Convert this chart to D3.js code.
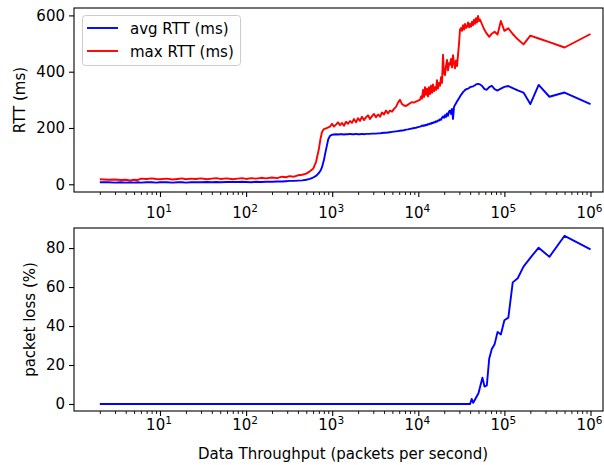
<!DOCTYPE html>
<html>
<head>
<meta charset="utf-8">
<script src="https://cdn.jsdelivr.net/npm/d3@7"></script>
<style>
  body { margin: 0; background: #fff; }
  svg { display: block; }
  text { font-family: "DejaVu Sans", sans-serif; fill: #000; }
</style>
</head>
<body>
<svg id="chart" width="604" height="465"></svg>
<script>
// Throughput sweep (packets per second) and round-trip times measured at each rate
const throughput = [
  2, 2.5, 3, 3.5, 4, 4.5, 5, 5.5, 6, 7,
  8, 9, 10, 12, 14, 16, 18, 20, 23, 26,
  30, 35, 40, 45, 50, 60, 70, 80, 90, 100,
  115, 130, 150, 170, 200, 230, 260, 290, 320, 360,
  400, 450, 500, 550, 600, 650, 700, 730, 760, 800,
  850, 900,
  943, 995, 1049, 1107, 1168, 1232, 1300, 1371, 1446, 1526,
  1610, 1698, 1791, 1890, 1994, 2103, 2219, 2341, 2470, 2605,
  2748, 2899, 3058, 3227, 3404, 3591, 3788, 3996, 4216, 4447,
  4692, 4950, 5222, 5508, 5811, 6131, 6467, 6823, 7198, 7594,
  8010, 8451, 8913, 9402, 9920, 10464,
  10748, 11040, 11337, 11644, 11960, 12285, 12618, 12960, 13312, 13673,
  14044, 14425, 14816, 15218, 15631, 16055, 16490, 16938, 17397, 17869,
  18354, 18852, 19363, 19889, 20428, 20982, 21552, 22136, 22737, 23354,
  23987, 24638, 25307, 25993, 26698, 27422, 28166, 28930, 29715, 30521,
  31349, 32199, 33072, 33969, 34891, 35837, 36809, 37808, 38833, 39887,
  40969, 42080, 43221, 44394, 45598, 46835, 48106, 49410, 50750, 52127,
  55556, 58824, 62500, 66667, 71429, 76923, 83333, 90909, 100000, 111111,
  125000, 142857, 166667, 200000, 250000, 333333, 500000, 1000000
];

const avgRtt = [
  7, 7, 6, 7, 6, 7, 6, 7, 6, 7,
  7, 6, 7, 7, 6, 7, 7, 6, 7, 7,
  7, 8, 7, 8, 7, 8, 8, 8, 9, 8,
  7, 9, 8, 9, 9, 10, 10, 11, 12, 12,
  13, 14, 16, 19, 24, 30, 40, 48, 60, 85,
  125, 160,
  172, 176, 177, 178, 177, 178, 178, 177, 178, 178,
  179, 178, 178, 179, 178, 178, 179, 178, 179, 179,
  179, 180, 180, 180, 181, 181, 182, 183, 183, 184,
  185, 186, 187, 188, 189, 190, 191, 192, 194, 195,
  197, 198, 200, 201, 203, 205,
  206, 209, 207, 210, 208, 212, 210, 214, 213, 216,
  215, 219, 217, 221, 220, 224, 222, 227, 226, 231,
  229, 237, 241, 236, 246, 239, 252, 243, 259, 262,
  250, 268, 232, 275, 282, 288, 295, 300, 306, 312,
  318, 322, 328, 331, 335, 337, 339, 340, 342, 345,
  346, 347, 348, 350, 352, 355, 356, 357, 356, 355,
  348, 338, 336, 345, 350, 338, 333, 340, 346, 349,
  342, 334, 326, 285, 353, 311, 326, 285
];

const maxRtt = [
  18, 16, 17, 15, 16, 14, 16, 15, 20, 19,
  21, 19, 18, 20, 17, 19, 21, 18, 20, 19,
  21, 18, 20, 22, 19, 21, 18, 20, 22, 19,
  22, 20, 23, 21, 24, 22, 27, 25, 29, 27,
  32, 34, 38, 46, 55, 80, 125, 160, 185, 196,
  199, 202,
  205, 215, 205, 212, 220, 210, 218, 208, 222, 215,
  225, 218, 232, 220, 235, 225, 240, 228, 238, 245,
  232, 242, 250, 238, 248, 240, 255, 248, 262, 252,
  262, 258, 268, 275, 290, 300, 285, 280, 278, 283,
  288, 292, 290, 294, 297, 300,
  312, 304, 335, 310, 345, 318, 340, 312, 345, 320,
  350, 325, 355, 330, 345, 335, 370, 340, 360, 350,
  380, 360, 460, 395, 388, 420, 442, 405, 430, 425,
  445, 415, 459, 430, 412, 440, 420, 459, 500, 550,
  555, 545, 565, 550, 570, 555, 560, 575, 558, 570,
  560, 578, 565, 585, 570, 590, 575, 598, 580, 585,
  565, 548, 535, 524, 535, 542, 532, 580, 545, 554,
  534, 515, 497, 528, 518, 505, 486, 534
];

// Packet loss at each rate
const lossThroughput = [
  2, 40000, 41667, 43478, 50000, 55556, 58824, 62500, 66667, 71429,
  76923, 83333, 90909, 100000, 111111, 125000, 142857, 166667, 200000, 250000,
  333333, 500000, 1000000
];
const packetLoss = [
  0, 0, 2.6, 0.6, 5.5, 13.5, 8.9, 9.5, 23.4, 28.2,
  30.6, 37, 35.7, 43, 44.3, 62.4, 64.5, 70.5, 75, 80.2,
  75.5, 86.3, 79.3
];

const xDecades = [10, 100, 1000, 10000, 100000, 1000000];
const rttTicks = [0, 200, 400, 600];
const lossTicks = [0, 20, 40, 60, 80];
const seriesNames = ["avg RTT (ms)", "max RTT (ms)"];
const seriesColors = ["#0000ff", "#ff0000"];

const svg = d3.select("#chart");
const FS = 15;

const left = 74, right = 603;
const x = d3.scaleLog().domain([Math.pow(10, 0.0012), Math.pow(10, 6.1452)]).range([left, right]);
const minorTicks = x.ticks().filter(v => !xDecades.includes(v) && Math.abs(Math.log10(v) % 1) > 1e-9);

function panel(top, bottom, yDomain, yTicks, yLabel, yLabelX, tickBaseline) {
  const y = d3.scaleLinear().domain(yDomain).range([bottom, top]);
  const g = svg.append("g");

  // major x ticks
  const ax = g.append("g").attr("transform", `translate(0,${bottom})`)
    .call(d3.axisBottom(x).tickValues(xDecades).tickFormat("").tickSize(5).tickSizeOuter(0));
  ax.select(".domain").remove();
  ax.selectAll("line").attr("stroke", "#000").attr("stroke-width", 1.1);
  // minor x ticks
  const axm = g.append("g").attr("transform", `translate(0,${bottom})`)
    .call(d3.axisBottom(x).tickValues(minorTicks).tickFormat("").tickSize(3).tickSizeOuter(0));
  axm.select(".domain").remove();
  axm.selectAll("line").attr("stroke", "#000").attr("stroke-width", 0.9);

  // decade labels with superscript exponents
  xDecades.forEach(v => {
    const t = g.append("text")
      .attr("x", x(v) - 1)
      .attr("y", tickBaseline)
      .attr("text-anchor", "middle")
      .attr("font-size", FS);
    t.append("tspan").text("10");
    t.append("tspan").attr("dy", -6).attr("font-size", 10.5).text(String(Math.round(Math.log10(v))));
  });

  // y axis
  const ay = g.append("g").attr("transform", `translate(${left},0)`)
    .call(d3.axisLeft(y).tickValues(yTicks).tickSize(5).tickPadding(4).tickSizeOuter(0));
  ay.select(".domain").remove();
  ay.selectAll("line").attr("stroke", "#000").attr("stroke-width", 1.1);
  ay.selectAll("text").attr("font-size", FS).attr("font-family", "DejaVu Sans").attr("fill", "#000");

  g.append("text")
    .attr("transform", `translate(${yLabelX},${(top + bottom) / 2}) rotate(-90)`)
    .attr("text-anchor", "middle")
    .attr("font-size", FS)
    .text(yLabel);

  return { g, y, top, bottom };
}

function frame(p) {
  p.g.append("rect")
    .attr("x", left).attr("y", p.top)
    .attr("width", right - left).attr("height", p.bottom - p.top)
    .attr("fill", "none").attr("stroke", "#000").attr("stroke-width", 1.1);
}

// Upper panel: RTT
const p1 = panel(8, 192, [-27.4, 626.3], rttTicks, "RTT (ms)", 25, 218);
svg.append("clipPath").attr("id", "c1").append("rect")
  .attr("x", left).attr("y", 8).attr("width", right - left).attr("height", 184);
const rttRows = throughput.map((t, i) => ({ t, avg: avgRtt[i], max: maxRtt[i] }));
[["avg", 0], ["max", 1]].forEach(([key, i]) => {
  p1.g.append("path")
    .datum(rttRows)
    .attr("clip-path", "url(#c1)")
    .attr("fill", "none")
    .attr("stroke", seriesColors[i])
    .attr("stroke-width", 1.9)
    .attr("stroke-linejoin", "round")
    .attr("d", d3.line().x(d => x(d.t)).y(d => p1.y(d[key])));
});
frame(p1);

// legend
const lg = p1.g.append("g");
lg.append("rect")
  .attr("x", 82.5).attr("y", 15.5).attr("width", 158).attr("height", 50).attr("rx", 3)
  .attr("fill", "#fff").attr("fill-opacity", 0.8)
  .attr("stroke", "#cccccc").attr("stroke-width", 1);
seriesNames.forEach((name, i) => {
  const cy = 28 + i * 23;
  lg.append("line")
    .attr("x1", 87).attr("x2", 118).attr("y1", cy).attr("y2", cy)
    .attr("stroke", seriesColors[i]).attr("stroke-width", 1.9);
  lg.append("text").attr("x", 130).attr("y", cy + 5.5).attr("font-size", FS).text(name);
});

// Lower panel: packet loss
const p2 = panel(228, 411, [-3.6, 90.3], lossTicks, "packet loss (%)", 35, 430);
const lossRows = lossThroughput.map((t, i) => ({ t, v: packetLoss[i] }));
p2.g.append("path")
  .datum(lossRows)
  .attr("fill", "none")
  .attr("stroke", "#0000ff")
  .attr("stroke-width", 1.9)
  .attr("stroke-linejoin", "round")
  .attr("d", d3.line().x(d => x(d.t)).y(d => p2.y(d.v)));
frame(p2);

svg.append("text")
  .attr("x", 343)
  .attr("y", 459)
  .attr("text-anchor", "middle")
  .attr("font-size", FS)
  .text("Data Throughput (packets per second)");
</script>
</body>
</html>
